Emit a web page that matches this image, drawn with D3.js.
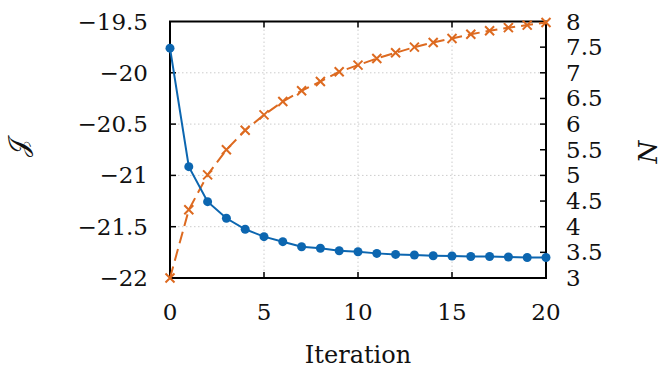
<!DOCTYPE html>
<html>
<head>
<meta charset="utf-8">
<script src="https://cdn.jsdelivr.net/npm/d3@7"></script>
<style>
  body { margin: 0; background: #fff; }
</style>
</head>
<body>
<div id="chart"></div>
<script>
var iterations = d3.range(0, 21);
var jValues = [-19.76, -20.915, -21.256, -21.418, -21.525, -21.597, -21.646, -21.695, -21.71, -21.734,
               -21.744, -21.76, -21.77, -21.776, -21.783, -21.786, -21.79, -21.79, -21.795, -21.80, -21.80];
var nValues = [3.0, 4.33, 5.01, 5.50, 5.88, 6.18, 6.44, 6.65, 6.83, 7.02,
               7.15, 7.28, 7.39, 7.50, 7.59, 7.67, 7.75, 7.82, 7.88, 7.93, 7.98];
var xTicks = [0, 5, 10, 15, 20];
var leftTicks = [-19.5, -20, -20.5, -21, -21.5, -22];
var rightTicks = [3, 3.5, 4, 4.5, 5, 5.5, 6, 6.5, 7, 7.5, 8];

function init(){
    var w = 662, h = 375;
    var left = 170, right = 546, top = 21.5, bottom = 278;
    var blue = "#0c66b0", orange = "#dd6a20";
    var serif = "'DejaVu Serif', 'Liberation Serif', serif";

    var svg = d3.select("#chart").append("svg")
                .attr("width", w)
                .attr("height", h)
                .attr("font-family", serif);

    var xScale = d3.scaleLinear().domain([0, 20]).range([left, right]);
    var yLeft = d3.scaleLinear().domain([-22, -19.5]).range([bottom, top]);
    var yRight = d3.scaleLinear().domain([3, 8]).range([bottom, top]);

    function fmt(d){ return String(d).replace("-", "\u2212"); }

    // grid
    svg.append("g").selectAll("line")
        .data(xTicks.slice(1, -1))
        .enter().append("line")
        .attr("x1", function(d){ return xScale(d); })
        .attr("x2", function(d){ return xScale(d); })
        .attr("y1", top).attr("y2", bottom)
        .attr("stroke", "#cccccc").attr("stroke-width", 1)
        .attr("stroke-dasharray", "1.5,2.5");
    svg.append("g").selectAll("line")
        .data(leftTicks.slice(1, -1))
        .enter().append("line")
        .attr("y1", function(d){ return yLeft(d); })
        .attr("y2", function(d){ return yLeft(d); })
        .attr("x1", left).attr("x2", right)
        .attr("stroke", "#cccccc").attr("stroke-width", 1)
        .attr("stroke-dasharray", "1.5,2.5");

    // inward ticks
    var tl = 6;
    var tg = svg.append("g").attr("stroke", "#000").attr("stroke-width", 1.5);
    xTicks.slice(1, -1).forEach(function(d){
        tg.append("line").attr("x1", xScale(d)).attr("x2", xScale(d)).attr("y1", bottom).attr("y2", bottom - tl);
        tg.append("line").attr("x1", xScale(d)).attr("x2", xScale(d)).attr("y1", top).attr("y2", top + tl);
    });
    leftTicks.slice(1, -1).forEach(function(d){
        tg.append("line").attr("x1", left).attr("x2", left + tl).attr("y1", yLeft(d)).attr("y2", yLeft(d));
    });
    rightTicks.slice(1, -1).forEach(function(d){
        tg.append("line").attr("x1", right).attr("x2", right - tl).attr("y1", yRight(d)).attr("y2", yRight(d));
    });

    // frame
    svg.append("rect")
        .attr("x", left).attr("y", top)
        .attr("width", right - left).attr("height", bottom - top)
        .attr("fill", "none").attr("stroke", "#000").attr("stroke-width", 2);

    // tick labels
    svg.append("g").selectAll("text")
        .data(xTicks).enter().append("text")
        .attr("x", function(d){ return xScale(d); })
        .attr("y", 320)
        .attr("text-anchor", "middle")
        .attr("font-size", 23)
        .attr("fill", "#111")
        .text(fmt);
    svg.append("g").selectAll("text")
        .data(leftTicks).enter().append("text")
        .attr("x", 148)
        .attr("y", function(d){ return yLeft(d) + 8; })
        .attr("text-anchor", "end")
        .attr("font-size", 23)
        .attr("fill", "#111")
        .text(fmt);
    svg.append("g").selectAll("text")
        .data(rightTicks).enter().append("text")
        .attr("x", 566)
        .attr("y", function(d){ return yRight(d) + 8; })
        .attr("text-anchor", "start")
        .attr("font-size", 23)
        .attr("fill", "#111")
        .text(fmt);

    // axis titles
    svg.append("text")
        .attr("x", (left + right) / 2).attr("y", 363)
        .attr("text-anchor", "middle")
        .attr("font-size", 24)
        .attr("fill", "#111")
        .text("Iteration");
    svg.append("text")
        .attr("transform", "translate(27,148) rotate(-90)")
        .attr("text-anchor", "middle")
        .attr("font-size", 26)
        .attr("fill", "#111")
        .text("\u{1D4A5}");
    svg.append("text")
        .attr("transform", "translate(657,152) rotate(-90)")
        .attr("text-anchor", "middle")
        .attr("font-size", 26)
        .attr("font-style", "italic")
        .attr("fill", "#111")
        .text("N");

    // N series (orange, dashed, crosses)
    var lineN = d3.line()
        .x(function(d, i){ return xScale(iterations[i]); })
        .y(function(d){ return yRight(d); });
    svg.append("path")
        .datum(nValues)
        .attr("d", lineN)
        .attr("fill", "none")
        .attr("stroke", orange)
        .attr("stroke-width", 2)
        .attr("stroke-dasharray", "12,6");
    var cs = 4.5;
    svg.append("g").selectAll("path")
        .data(nValues).enter().append("path")
        .attr("d", function(d, i){
            var x = xScale(iterations[i]), y = yRight(d);
            return "M" + (x - cs) + "," + (y - cs) + "L" + (x + cs) + "," + (y + cs) +
                   "M" + (x - cs) + "," + (y + cs) + "L" + (x + cs) + "," + (y - cs);
        })
        .attr("stroke", orange)
        .attr("stroke-width", 2)
        .attr("fill", "none");

    // J series (blue, solid, dots)
    var lineJ = d3.line()
        .x(function(d, i){ return xScale(iterations[i]); })
        .y(function(d){ return yLeft(d); });
    svg.append("path")
        .datum(jValues)
        .attr("d", lineJ)
        .attr("fill", "none")
        .attr("stroke", blue)
        .attr("stroke-width", 2);
    svg.append("g").selectAll("circle")
        .data(jValues).enter().append("circle")
        .attr("cx", function(d, i){ return xScale(iterations[i]); })
        .attr("cy", function(d){ return yLeft(d); })
        .attr("r", 4.5)
        .attr("fill", blue);
}

window.onload = init;
</script>
</body>
</html>
